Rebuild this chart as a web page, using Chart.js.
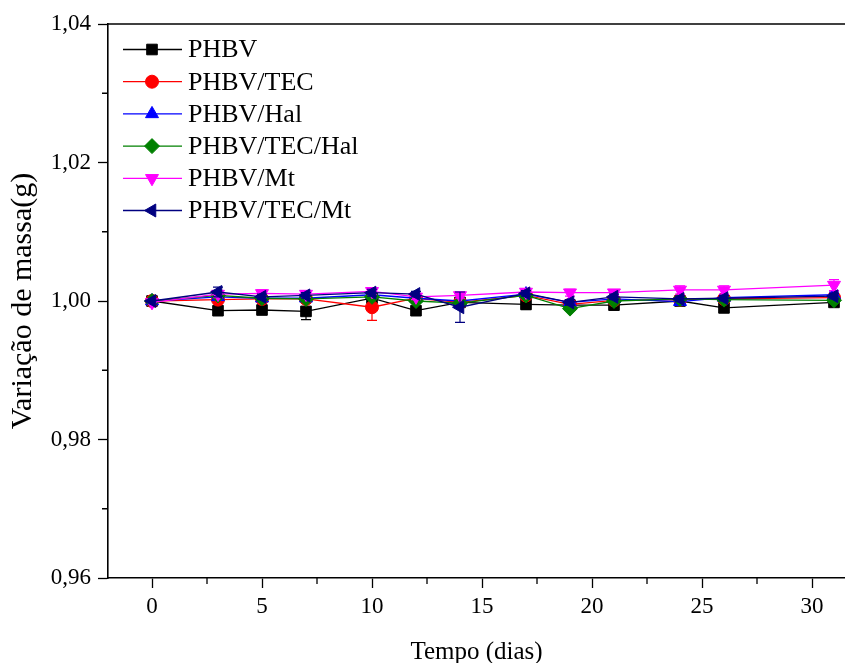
<!DOCTYPE html>
<html>
<head>
<meta charset="utf-8">
<script src="https://cdn.jsdelivr.net/npm/chart.js@4.4.1/dist/chart.umd.min.js"></script>
<style>
  html, body { margin: 0; padding: 0; background: #fff; overflow: hidden; }
  #wrap { width: 845px; height: 663px; position: relative; }
  #massa { display: block; }
</style>
</head>
<body>
<div id="wrap"><canvas id="massa"></canvas></div>
<script>
// days of the test
const days = [0, 3, 5, 7, 10, 12, 14, 17, 19, 21, 24, 26, 31];

const seriesNames = ['PHBV', 'PHBV/TEC', 'PHBV/Hal', 'PHBV/TEC/Hal', 'PHBV/Mt', 'PHBV/TEC/Mt'];

// mass variation (g)
const phbv      = [1.0000, 0.9986, 0.9987, 0.9985, 1.0004, 0.9986, 0.9998, 0.9995, 0.9994, 0.9994, 1.0000, 0.9990, 0.9998];
const phbvTec   = [1.0000, 1.0002, 1.0003, 1.0003, 0.9991, 1.0004, 0.9998, 1.0008, 0.9995, 1.0001, 1.0002, 1.0003, 1.0005];
const phbvHal   = [1.0000, 1.0006, 1.0004, 1.0004, 1.0009, 1.0004, 1.0000, 1.0010, 0.9998, 1.0003, 0.9999, 1.0005, 1.0009];
const phbvTecHal= [1.0000, 1.0008, 1.0004, 1.0003, 1.0006, 1.0000, 0.9997, 1.0008, 0.9989, 1.0000, 1.0003, 1.0002, 1.0001];
const phbvMt    = [0.9998, 1.0010, 1.0011, 1.0010, 1.0014, 1.0006, 1.0008, 1.0013, 1.0012, 1.0012, 1.0016, 1.0016, 1.0023];
const phbvTecMt = [1.0000, 1.0013, 1.0006, 1.0008, 1.0012, 1.0010, 0.9991, 1.0011, 0.9998, 1.0006, 1.0003, 1.0004, 1.0007];

// error bars (g)
const errPhbv      = [0, 0.0003, 0.0003, 0.0012, 0.0003, 0.0003, 0.0003, 0.0007, 0.0003, 0.0003, 0.0003, 0.0003, 0.0003];
const errPhbvTec   = [0, 0.0003, 0.0003, 0.0003, 0.0019, 0.0003, 0.0003, 0.0003, 0.0003, 0.0003, 0.0003, 0.0003, 0.0003];
const errPhbvHal   = [0, 0.0004, 0.0004, 0.0004, 0.0004, 0.0004, 0.0004, 0.0004, 0.0004, 0.0004, 0.0005, 0.0004, 0.0004];
const errPhbvTecHal= [0, 0.0003, 0.0003, 0.0003, 0.0003, 0.0003, 0.0003, 0.0003, 0.0003, 0.0003, 0.0003, 0.0003, 0.0003];
const errPhbvMt    = [0, 0.0005, 0.0005, 0.0005, 0.0005, 0.0004, 0.0004, 0.0004, 0.0005, 0.0004, 0.0006, 0.0006, 0.0008];
const errPhbvTecMt = [0, 0.0007, 0.0004, 0.0004, 0.0005, 0.0004, 0.0022, 0.0004, 0.0004, 0.0004, 0.0004, 0.0004, 0.0004];

const xTicks = [0, 5, 10, 15, 20, 25, 30];
const xMinorTicks = [2.5, 7.5, 12.5, 17.5, 22.5, 27.5];
const yTicks = [0.96, 0.98, 1.00, 1.02, 1.04];
const yMinorTicks = [0.97, 0.99, 1.01, 1.03];

const values = [phbv, phbvTec, phbvHal, phbvTecHal, phbvMt, phbvTecMt];
const errors = [errPhbv, errPhbvTec, errPhbvHal, errPhbvTecHal, errPhbvMt, errPhbvTecMt];

const colors = ['#000000', '#ff0000', '#0000ff', '#008000', '#ff00ff', '#000080'];
const styles = ['rect', 'circle', 'triangle', 'rectRot', 'triangle', 'triangle'];
const rotations = [0, 0, 0, 0, 180, 270];
const radii = [7.5, 6.5, 7.5, 7.5, 7.5, 7.5];

const serif = "'Liberation Serif', 'Times New Roman', serif";

const datasets = seriesNames.map((name, i) => ({
  label: name,
  data: days.map((d, j) => ({ x: d, y: values[i][j] })),
  err: errors[i],
  borderColor: colors[i],
  backgroundColor: colors[i],
  borderWidth: 1.3,
  pointStyle: styles[i],
  pointRotation: rotations[i],
  pointRadius: radii[i],
  pointBorderWidth: 1,
  order: seriesNames.length - i,
  tension: 0
}));

const errorBars = {
  id: 'errorBars',
  afterDatasetDraw(chart, args) {
    const ds = chart.data.datasets[args.index];
    const ctx = chart.ctx;
    const ys = chart.scales.y;
    ctx.save();
    ctx.strokeStyle = ds.borderColor;
    ctx.lineWidth = 1.2;
    args.meta.data.forEach((pt, j) => {
      const e = ds.err[j];
      if (!e) return;
      const v = ds.data[j].y;
      const top = ys.getPixelForValue(v + e);
      const bot = ys.getPixelForValue(v - e);
      ctx.beginPath();
      ctx.moveTo(pt.x, top); ctx.lineTo(pt.x, bot);
      ctx.moveTo(pt.x - 5, top); ctx.lineTo(pt.x + 5, top);
      ctx.moveTo(pt.x - 5, bot); ctx.lineTo(pt.x + 5, bot);
      ctx.stroke();
    });
    ctx.restore();
  }
};

const frame = {
  id: 'frame',
  afterDraw(chart) {
    const ctx = chart.ctx;
    const a = chart.chartArea;
    const xs = chart.scales.x, ys = chart.scales.y;
    ctx.save();
    ctx.strokeStyle = '#000';
    ctx.lineWidth = 1.6;
    ctx.beginPath();
    ctx.moveTo(a.left, a.top); ctx.lineTo(a.right, a.top);
    ctx.stroke();
    ctx.lineWidth = 1.3;
    ctx.beginPath();
    xMinorTicks.forEach(v => {
      const px = xs.getPixelForValue(v);
      ctx.moveTo(px, a.bottom); ctx.lineTo(px, a.bottom + 6);
    });
    yMinorTicks.forEach(v => {
      const py = ys.getPixelForValue(v);
      ctx.moveTo(a.left, py); ctx.lineTo(a.left - 6, py);
    });
    ctx.stroke();

    // legend: line with marker in the middle
    const rowY = 49.5, rowGap = 32.2;
    chart.data.datasets.forEach((ds, i) => {
      const y = rowY + i * rowGap;
      ctx.strokeStyle = ds.borderColor;
      ctx.fillStyle = ds.backgroundColor;
      ctx.lineWidth = 1.3;
      ctx.beginPath();
      ctx.moveTo(123, y); ctx.lineTo(182, y);
      ctx.stroke();
      ctx.lineWidth = 1;
      Chart.helpers.drawPoint(ctx, {
        pointStyle: ds.pointStyle, rotation: ds.pointRotation,
        radius: ds.pointRadius, borderWidth: 1
      }, 152, y);
      ctx.fillStyle = '#000';
      ctx.font = '26px ' + serif;
      ctx.textBaseline = 'middle';
      ctx.textAlign = 'left';
      ctx.fillText(ds.label, 188, y + 1);
    });
    ctx.restore();
  }
};

new Chart(document.getElementById('massa'), {
  type: 'line',
  data: { datasets },
  plugins: [errorBars, frame],
  options: {
    responsive: true,
    maintainAspectRatio: false,
    animation: false,
    layout: { autoPadding: false, padding: { top: 24, right: 0, left: 0, bottom: 0 } },
    plugins: { legend: { display: false }, tooltip: { enabled: false } },
    scales: {
      x: {
        type: 'linear',
        min: -2,
        max: 31.5,
        afterBuildTicks: s => { s.ticks = xTicks.map(v => ({ value: v })); },
        afterFit: s => { s.height = 85; s.paddingLeft = 0; s.paddingRight = 0; },
        grid: { display: true, drawOnChartArea: false, drawTicks: true, tickLength: 10, tickColor: '#000', tickWidth: 1.3 },
        border: { display: true, color: '#000', width: 1.6 },
        ticks: { color: '#000', padding: 5, font: { family: serif, size: 23 }, maxRotation: 0 },
        title: { display: true, text: 'Tempo (dias)', color: '#000', font: { family: serif, size: 25, lineHeight: 1 }, padding: { top: 0, bottom: -2 } }
      },
      y: {
        min: 0.96,
        max: 1.04,
        afterBuildTicks: s => { s.ticks = yTicks.map(v => ({ value: v })); },
        afterFit: s => { s.width = 108; },
        grid: { display: true, drawOnChartArea: false, drawTicks: true, tickLength: 10, tickColor: '#000', tickWidth: 1.3 },
        border: { display: true, color: '#000', width: 1.6 },
        ticks: {
          color: '#000', padding: 7, font: { family: serif, size: 23 },
          callback: v => v.toFixed(2).replace('.', ',')
        },
        title: { display: true, text: 'Variação de massa(g)', color: '#000', font: { family: serif, size: 30, lineHeight: 1 }, padding: { top: 8, bottom: 0 } }
      }
    }
  }
});
</script>
</body>
</html>
